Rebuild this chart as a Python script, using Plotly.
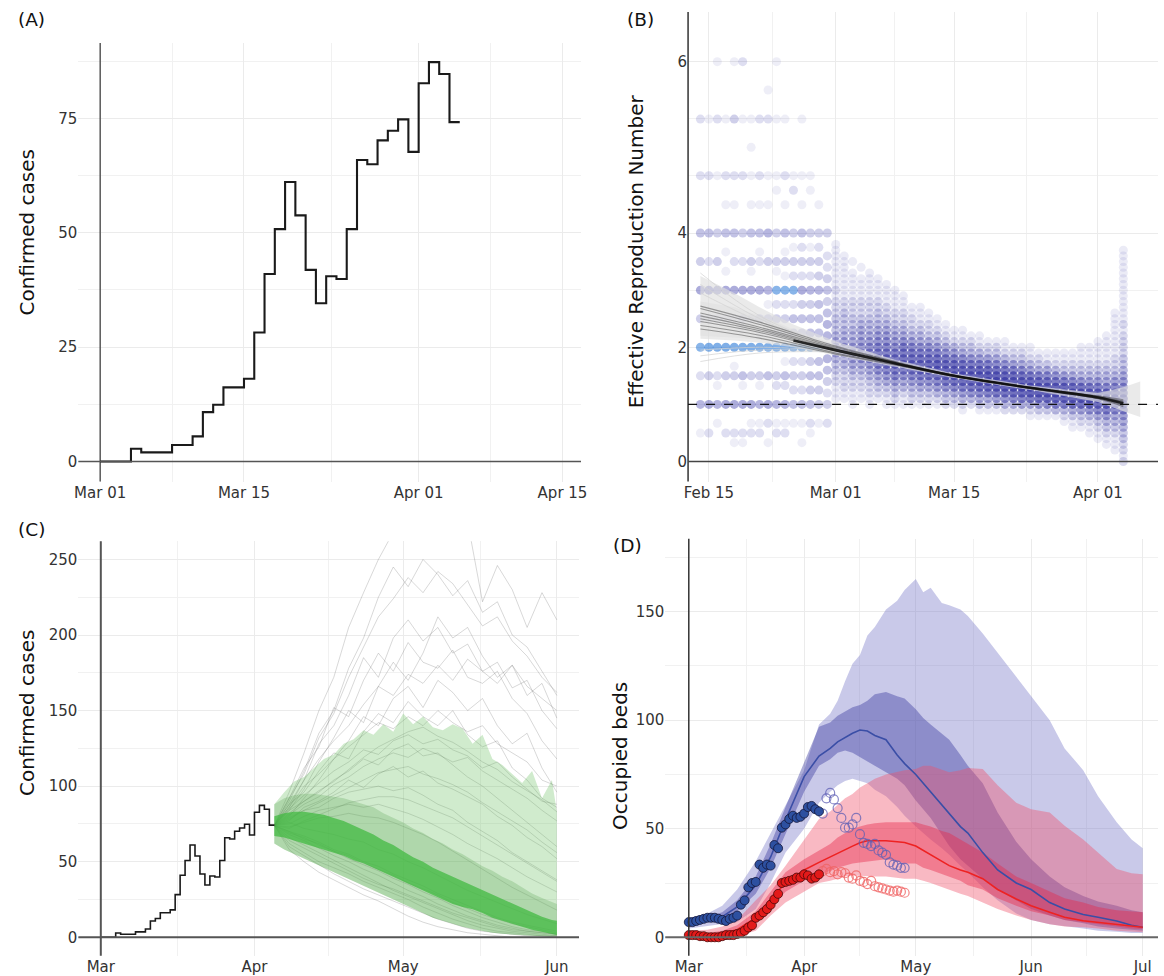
import pandas as pd
import plotly.graph_objects as go

W, H = 1164, 976
FONT = "DejaVu Sans"
GRID = "#ebebeb"
TICK = "#333333"

# ---------------- Panel A / C : observed daily confirmed cases ----------------
case_start = "2020-03-01"
cases = [0, 0, 0, 2.8, 2.0, 2.0, 2.0, 3.6, 3.6, 5.5, 10.8, 12.4, 16.2, 16.2, 18.1,
         28.2, 41.0, 50.8, 61.1, 53.8, 41.9, 34.6, 40.5, 39.9, 50.8, 65.9, 65.0,
         70.2, 72.3, 74.8, 67.7, 82.7, 87.3, 84.7, 74.2]

# ---------------- Panel B : effective reproduction number samples ----------------
# early days: discrete sample values "value:count"
rt_disc_start = "2020-02-14"
rt_disc = [
    "0.5:1 1:5 1.5:2 2:8 2.5:3 3:6 3.5:3 4:4 4.67:2 5.33:2",
    "0.5:2 1:6 1.5:3 2:9 2.5:2 3:7 3.5:2 4:4 4.67:2 5.33:1",
    "0.67:1 1:5 1.33:1 1.5:2 2:9 2.5:2 3:6 3.5:3 4:3 4.67:1 5.33:2 6:1",
    "0.5:2 1:6 1.5:3 2:9 2.5:2 3:6 3.33:1 3.67:1 4:4 4.33:1 4.67:2 5.33:1",
    "0.33:1 0.5:2 1:6 1.5:3 1.67:1 2:9 2.5:2 3:6 3.5:2 4:4 4.33:1 4.67:2 5.33:3 6:1",
    "0.33:1 0.5:2 1:6 1.33:1 1.5:4 2:9 2.33:1 2.5:3 3:6 3.5:2 4:3 4.67:2 5.33:1 6:2",
    "0.5:2 0.67:1 1:6 1.5:3 2:9 2.5:2 3:6 3.33:1 3.5:3 4:4 4.33:1 4.67:1 5:1 5.33:1",
    "0.5:2 0.67:1 1:5 1.33:1 1.5:3 2:9 2.25:1 2.5:3 3:6 3.5:2 3.67:1 4:4 4.33:1 4.67:2 5.33:2",
    "0.33:1 0.67:2 1:6 1.5:4 2:9 2.25:1 2.5:3 2.75:1 3:5 3.5:3 4:5 4.33:1 4.67:1 5.33:2 5.67:1",
    "0.5:2 0.67:1 1:5 1.33:2 1.5:3 2:9 2.25:2 2.5:3 2.75:2 3:8 3.33:1 3.5:3 4:3 4.5:1 4.67:1 5.33:1 6:1",
    "0.5:2 0.67:1 1:5 1.33:2 1.5:4 1.75:1 2:9 2.25:2 2.5:3 2.75:2 3:8 3.25:1 3.5:3 3.67:1 4:4 4.33:1 4.67:2 5.33:1",
    "0.67:1 1:4 1.25:2 1.5:3 1.75:2 2:9 2.25:3 2.5:4 2.75:2 3:8 3.25:2 3.5:3 3.75:1 4:3 4.5:2 4.67:1",
    "0.33:1 0.67:1 1:4 1.25:2 1.5:3 1.75:2 2:9 2.25:3 2.5:4 2.75:3 3:6 3.25:2 3.5:3 3.75:2 4:4 4.33:1 4.67:1 5.33:1",
    "0.5:1 0.67:2 1:4 1.25:3 1.5:4 1.75:3 2:8 2.25:4 2.5:4 2.75:3 3:5 3.25:2 3.5:3 3.75:1 4:3 4.5:1 4.67:1",
    "0.67:1 1:3 1.25:3 1.5:4 1.75:4 2:8 2.25:4 2.5:4 2.75:4 3:5 3.25:3 3.5:3 3.75:2 4:3 4.33:1",
    "0.67:2 1:3 1.2:2 1.4:3 1.6:4 1.8:5 2:6 2.2:5 2.4:5 2.6:4 2.8:3 3:4 3.2:3 3.4:2 3.6:2 4:3",
]
# later days: histogram of samples, first bin value and counts in 0.1 steps
rt_cont_start = "2020-03-01"
rt_cont_lo = [1.1, 1.1, 1.0, 1.1, 1.0, 1.1, 1.0, 1.0, 1.0, 1.0, 1.0, 1.0, 1.0, 1.0, 1.0,
              0.9, 1.0, 0.9, 0.9, 0.9, 0.9, 0.9, 0.9, 0.8, 0.8, 0.8, 0.8, 0.7, 0.6, 0.6,
              0.5, 0.4, 0.3, 0.2, 0.0]
rt_cont_counts = [
    [1, 1, 1, 2, 2, 3, 3, 4, 4, 5, 4, 4, 3, 3, 3, 2, 2, 2, 1, 2, 1, 1, 1, 1, 1, 1, 1, 1],
    [1, 1, 2, 2, 2, 3, 4, 4, 5, 5, 5, 4, 4, 3, 3, 3, 2, 2, 1, 1, 1, 1, 1, 1, 1, 1],
    [1, 1, 1, 2, 2, 3, 4, 5, 5, 6, 5, 5, 4, 4, 3, 3, 2, 2, 2, 1, 1, 1, 1, 1, 0, 1],
    [1, 1, 2, 2, 3, 4, 5, 6, 6, 6, 6, 5, 5, 4, 3, 2, 2, 2, 1, 1, 1, 1, 0, 1],
    [1, 1, 2, 2, 3, 4, 5, 6, 7, 7, 7, 6, 5, 4, 4, 3, 2, 2, 2, 1, 1, 1, 1, 1],
    [1, 2, 3, 4, 5, 7, 8, 9, 9, 8, 7, 6, 5, 4, 3, 3, 2, 2, 1, 1, 1, 1],
    [1, 1, 2, 3, 5, 6, 8, 9, 10, 9, 8, 7, 6, 5, 4, 3, 2, 2, 1, 1, 1, 1],
    [1, 2, 3, 4, 6, 8, 9, 10, 10, 9, 7, 6, 5, 4, 3, 2, 2, 1, 1, 1, 1],
    [1, 1, 2, 4, 5, 7, 9, 10, 11, 10, 9, 7, 5, 4, 3, 2, 2, 1, 1, 1],
    [1, 2, 3, 4, 6, 8, 10, 11, 11, 10, 8, 6, 4, 3, 2, 2, 1, 1],
    [1, 2, 3, 5, 7, 9, 11, 12, 11, 9, 7, 5, 4, 3, 2, 1, 1, 1],
    [1, 2, 3, 5, 7, 10, 12, 12, 11, 9, 7, 5, 3, 2, 2, 1, 1],
    [1, 2, 4, 6, 8, 11, 13, 13, 11, 9, 6, 4, 3, 2, 1, 1],
    [2, 3, 4, 7, 10, 12, 13, 12, 10, 7, 5, 3, 2, 1, 1],
    [2, 3, 5, 8, 11, 13, 13, 12, 9, 6, 4, 2, 1, 1],
    [1, 2, 4, 6, 9, 12, 14, 13, 11, 8, 5, 3, 2, 1, 1],
    [2, 4, 7, 10, 13, 14, 13, 10, 7, 4, 3, 2, 1],
    [1, 3, 5, 8, 11, 14, 15, 13, 10, 6, 4, 2, 1, 1],
    [1, 3, 5, 9, 12, 15, 15, 12, 9, 6, 3, 2, 1],
    [1, 3, 6, 10, 13, 15, 14, 11, 8, 5, 3, 2, 1],
    [2, 4, 7, 11, 14, 15, 13, 10, 7, 4, 2, 1, 1],
    [2, 4, 8, 12, 15, 15, 12, 9, 6, 3, 2, 1],
    [2, 5, 9, 13, 15, 14, 11, 8, 5, 3, 2, 1],
    [1, 2, 5, 10, 14, 15, 13, 10, 6, 4, 2, 1, 1],
    [1, 3, 6, 11, 15, 15, 12, 9, 5, 3, 2, 1],
    [1, 3, 7, 12, 15, 14, 11, 8, 5, 3, 1, 1],
    [1, 4, 8, 13, 15, 14, 10, 7, 4, 2, 1, 1],
    [1, 2, 4, 9, 13, 15, 13, 9, 6, 3, 2, 1, 1],
    [1, 1, 3, 5, 10, 14, 15, 12, 8, 5, 3, 2, 1, 1],
    [1, 2, 3, 6, 11, 14, 14, 11, 7, 4, 3, 2, 1, 1, 1],
    [1, 1, 2, 4, 7, 12, 14, 13, 10, 6, 4, 3, 2, 1, 1, 1],
    [1, 1, 2, 3, 5, 8, 12, 14, 12, 9, 6, 4, 3, 2, 1, 1, 1, 1],
    [1, 1, 2, 3, 4, 6, 9, 12, 13, 11, 8, 5, 4, 3, 2, 1, 1, 1, 1, 1],
    [1, 1, 1, 2, 3, 4, 5, 8, 10, 11, 10, 8, 6, 4, 3, 2, 2, 1, 1, 1, 1, 1, 1, 1, 1],
    [2, 1, 2, 2, 3, 3, 4, 5, 6, 8, 9, 9, 8, 7, 6, 5, 4, 3, 3, 2, 2, 2, 2, 1, 2, 1,
     1, 1, 1, 1, 1, 1, 1, 1, 1, 1, 1, 1],
]
# smoothed trends of the samples
trend_dates = ["2020-02-14", "2020-02-21", "2020-03-01", "2020-03-08",
               "2020-03-15", "2020-03-24", "2020-04-01", "2020-04-04"]
trend_dark = [
    [2.68, 2.40, 2.00, 1.74, 1.51, 1.29, 1.12, 1.02],
    [2.60, 2.35, 1.98, 1.73, 1.50, 1.30, 1.14, 1.06],
    [2.45, 2.26, 1.93, 1.71, 1.50, 1.29, 1.12, 1.00],
    [2.38, 2.21, 1.90, 1.70, 1.49, 1.28, 1.11, 0.98],
    [2.55, 2.32, 1.96, 1.72, 1.51, 1.30, 1.15, 1.08],
    [2.50, 2.29, 1.94, 1.71, 1.50, 1.28, 1.10, 0.96],
    [2.72, 2.44, 2.02, 1.75, 1.51, 1.29, 1.13, 1.03],
    [2.32, 2.16, 1.88, 1.69, 1.49, 1.29, 1.13, 1.05],
]
center_dates = ["2020-02-25", "2020-03-01", "2020-03-08", "2020-03-15",
                "2020-03-24", "2020-04-01", "2020-04-04"]
trend_center = [2.12, 1.95, 1.72, 1.50, 1.29, 1.12, 1.02]
fan_dates = ["2020-02-14", "2020-02-21", "2020-03-01"]
fan_lines = [[3.30, 2.55, 1.98], [3.10, 2.50, 1.97], [1.75, 1.90, 1.92],
             [1.85, 1.95, 1.93], [2.95, 2.45, 1.96], [1.95, 2.00, 1.94]]
ribbon_dates = ["2020-02-14", "2020-02-18", "2020-02-21", "2020-02-25", "2020-03-01",
                "2020-03-08", "2020-03-15", "2020-03-24", "2020-04-01", "2020-04-04",
                "2020-04-06"]
ribbon_hi = [3.25, 2.95, 2.70, 2.40, 2.10, 1.78, 1.54, 1.33, 1.20, 1.30, 1.40]
ribbon_lo = [2.15, 2.12, 2.08, 2.00, 1.86, 1.66, 1.46, 1.25, 1.04, 0.88, 0.78]
ribbon2_dates = ["2020-02-14", "2020-02-18", "2020-02-22", "2020-02-26", "2020-03-01"]
ribbon2_hi = [2.80, 2.70, 2.50, 2.25, 2.05]
ribbon2_lo = [2.20, 2.17, 2.12, 2.03, 1.92]

# ---------------- Panel C : projected cases ----------------
traj_start = "2020-04-05"
traj_step = 3
traj = [
    [74, 96, 122, 150, 172, 205, 228, 250, 268, 285, 300, 305, 290, 275, 222, 246, 230, 205, 228, 210],
    [74, 90, 110, 135, 150, 178, 198, 225, 245, 232, 250, 240, 226, 236, 215, 222, 200, 192, 176, 160],
    [74, 86, 104, 128, 140, 160, 185, 172, 198, 210, 196, 205, 188, 194, 176, 182, 165, 170, 150, 138],
    [74, 92, 112, 126, 152, 146, 170, 188, 176, 195, 182, 178, 190, 172, 168, 176, 158, 148, 130, 118],
    [74, 84, 98, 116, 132, 150, 142, 166, 182, 170, 188, 212, 198, 205, 186, 172, 180, 160, 168, 145],
    [74, 80, 92, 104, 118, 130, 146, 140, 158, 166, 152, 170, 162, 150, 158, 140, 128, 135, 112, 96],
    [74, 88, 96, 110, 122, 118, 136, 148, 142, 156, 146, 140, 150, 134, 126, 130, 112, 104, 92, 86],
    [74, 82, 90, 96, 104, 110, 118, 114, 124, 128, 120, 122, 114, 106, 100, 92, 84, 76, 68, 60],
    [74, 78, 84, 86, 92, 96, 98, 100, 97, 99, 94, 88, 84, 76, 70, 64, 56, 50, 44, 38],
    [74, 73, 76, 79, 80, 82, 80, 79, 76, 72, 68, 63, 57, 51, 45, 39, 33, 28, 23, 18],
    [74, 76, 72, 70, 68, 65, 63, 58, 55, 50, 46, 41, 36, 31, 27, 23, 19, 15, 12, 9],
    [74, 70, 67, 63, 58, 55, 50, 47, 42, 38, 34, 29, 25, 21, 17, 13, 10, 8, 6, 4],
    [74, 66, 61, 56, 51, 46, 41, 36, 31, 27, 23, 19, 15, 11, 8, 6, 4, 3, 2, 1],
    [74, 58, 50, 43, 38, 33, 28, 24, 19, 14, 10, 7, 5, 3, 2, 1, 0, 0, 0, 0],
    [74, 68, 64, 59, 54, 50, 45, 41, 36, 31, 27, 22, 18, 14, 11, 8, 6, 4, 3, 2],
    [74, 79, 84, 89, 94, 99, 104, 109, 111, 113, 108, 105, 101, 96, 89, 83, 77, 71, 63, 56],
    [74, 84, 90, 97, 103, 111, 119, 126, 131, 136, 139, 133, 129, 123, 116, 111, 103, 97, 91, 83],
    [74, 72, 77, 81, 85, 89, 91, 93, 93, 91, 87, 83, 79, 73, 67, 61, 55, 49, 43, 37],
    [74, 92, 108, 132, 148, 172, 192, 212, 224, 238, 228, 242, 234, 220, 206, 212, 196, 186, 172, 162],
    [74, 88, 104, 118, 130, 140, 154, 166, 160, 174, 168, 180, 170, 184, 176, 168, 180, 166, 158, 150],
    [74, 62, 56, 50, 46, 42, 37, 33, 29, 25, 20, 16, 12, 9, 6, 4, 3, 2, 1, 1],
    [74, 70, 65, 62, 57, 54, 49, 45, 41, 36, 32, 28, 23, 19, 15, 12, 9, 7, 5, 3],
    [74, 81, 88, 93, 101, 106, 113, 118, 122, 119, 125, 121, 116, 119, 110, 104, 98, 92, 84, 77],
    [74, 77, 86, 90, 96, 104, 99, 108, 113, 106, 110, 102, 98, 93, 88, 80, 74, 66, 60, 52],
    [74, 85, 94, 102, 110, 116, 124, 121, 130, 134, 128, 131, 124, 120, 112, 116, 106, 98, 90, 88],
    [74, 75, 80, 84, 86, 88, 86, 88, 85, 82, 78, 73, 68, 62, 57, 52, 46, 40, 35, 30],
    [74, 64, 59, 54, 49, 44, 39, 35, 32, 28, 24, 20, 16, 13, 10, 7, 5, 4, 3, 2],
    [74, 60, 54, 48, 42, 37, 32, 28, 24, 20, 16, 12, 9, 6, 4, 3, 2, 1, 1, 0],
    [74, 69, 66, 61, 57, 52, 48, 44, 39, 35, 30, 26, 21, 17, 13, 10, 7, 5, 4, 2],
    [74, 86, 100, 108, 118, 126, 134, 142, 138, 146, 140, 150, 142, 136, 140, 128, 122, 116, 104, 100],
]
c_band_days = [0, 2, 4, 6, 8, 10, 12, 14, 16, 18, 20, 22, 24, 26, 28, 30, 32, 34, 36,
               38, 40, 42, 44, 46, 48, 50, 52, 54, 56, 57]
c_outer_hi = [88, 96, 103, 106, 112, 118, 121, 128, 131, 137, 134, 141, 136, 148, 141,
              146, 139, 137, 141, 138, 128, 134, 118, 114, 108, 102, 110, 92, 104, 83]
c_mid_hi = [88, 92, 94, 95, 95, 94, 93, 92, 90, 88, 86, 82, 79, 76, 72, 69, 65, 62, 58,
            55, 51, 47, 44, 40, 37, 33, 29, 26, 23, 22]
c_mid_lo = [62, 58, 55, 52, 49, 46, 43, 40, 37, 34, 31, 28, 25, 22, 19, 16, 13, 11, 9,
            7, 5.5, 4, 3, 2.3, 1.8, 1.3, 1, 0.7, 0.5, 0.5]
c_inner_hi = [80, 82, 83, 83, 82, 81, 79, 77, 74, 71, 68, 64, 61, 57, 53, 50, 46, 43, 40,
              37, 34, 31, 28, 25, 22, 19, 16, 13.5, 11.5, 11]
c_inner_lo = [67, 66, 64, 62, 60, 58, 56, 54, 51, 49, 46, 43, 40, 37, 34, 31, 28, 25, 22,
              20, 18.5, 16, 13, 11, 9, 7, 5, 3.5, 2.2, 1.5]

# ---------------- Panel D : occupied beds ----------------
d_start = "2020-03-01"
d_days = [0, 5, 9, 13, 18, 22, 26, 31, 35, 38, 40, 42, 44, 46, 48, 50, 53, 56, 58, 61,
          63, 65, 68, 70, 73, 75, 79, 83, 88, 92, 97, 101, 106, 110, 115, 119, 122]
blue_out_hi = [9, 11, 14.5, 22, 35, 48, 61, 77, 98, 103, 109, 118, 126, 130, 139, 143,
               151, 155, 160, 165, 159, 161, 154, 153, 151, 148, 140, 131, 120, 111, 100,
               87, 77, 65, 53, 45, 41]
blue_out_lo = [4, 5, 6, 7, 13, 25, 39, 50, 62, 67, 70, 72, 73, 72, 71, 68, 65, 60, 56,
               51, 48, 45, 41, 38, 33, 30, 23, 17, 11, 8, 6, 5, 4, 3, 2.5, 2, 2]
blue_in_hi = [8.5, 9.5, 11.5, 17, 28, 43, 60, 81, 97, 99, 102, 104, 106, 107, 109, 112,
              113, 111, 110, 105, 101, 98, 94, 91, 84, 79, 71, 57.5, 44, 36, 28, 23, 19,
              16.5, 14.5, 12.5, 11.5]
blue_in_lo = [6, 7, 8, 12, 20, 32, 48, 67, 79, 82, 85, 86, 85, 83, 81, 79, 76, 73, 70,
              63, 59, 55, 47, 42, 36, 33, 27, 22, 17, 13, 10, 8, 6.5, 5, 4, 3.5, 3]
blue_med = [7, 8, 9.5, 14, 24, 37, 54, 74, 83.5, 87, 90, 92, 94, 95.5, 95, 93, 91, 84,
            80, 75, 71, 67, 61, 57.5, 51, 48, 39, 31, 25, 22, 16, 13, 10.5, 9.2, 7.5,
            5.5, 4.6]
red_out_hi = [3, 3.5, 5, 8, 17, 24, 33, 45, 54.5, 58, 61, 64, 66, 69, 71, 73, 75, 76,
              77, 77.5, 79, 79, 77, 76, 77, 78, 77.5, 70, 62, 59, 57.5, 51.4, 45, 39,
              31.4, 29.5, 29]
red_out_lo = [0, 0, 0.3, 0.5, 3, 10, 16, 21, 25, 26, 27, 28, 28.3, 28.3, 28.3, 28, 28,
              27.5, 27, 27, 26, 25, 23, 22, 20, 19, 16, 13, 10, 8, 6, 5, 4.6, 4, 3, 2.5,
              2.3]
red_in_hi = [2, 2, 3, 5.5, 12, 21, 30, 36, 40, 43, 46, 48, 50, 51, 52, 52.5, 53, 53,
             53, 53, 52, 51, 49, 48, 45, 43, 39, 34, 28, 25, 21, 18, 16, 14, 12.5, 12,
             11.5]
red_in_lo = [0.5, 0.5, 1, 2, 6, 14, 21, 26, 29, 30.5, 32, 33, 34, 34.5, 35, 35.5, 36,
             35, 34, 34, 32, 31, 29, 28, 26, 24, 22, 18, 14.5, 12, 10, 8, 7, 6, 5, 4,
             3.8]
red_med = [1, 1, 2, 3.5, 9, 17.6, 25, 31, 34.5, 37, 39, 40.5, 42, 43.5, 44.5, 44.5,
           44.5, 44, 43.7, 42, 40, 38, 35, 33, 31, 30, 27, 22, 17.6, 14.5, 11.5, 9.2,
           7.6, 6.8, 6, 5, 4.6]
obs_blue = [7, 7, 7.5, 8, 8.5, 9, 9, 9, 8.5, 8, 7.5, 8.5, 9, 10, 15, 17, 23, 25, 25.5,
            33.5, 32, 33.5, 33, 42.5, 41, 50.5, 52, 54.5, 56, 55, 55.5, 57, 60, 60.5, 59, 58]
obs_red = [1, 1, 1, 0.5, 0.5, 0, 0, 0, 0, 0.5, 1, 1, 1, 1.5, 2, 3, 4.5, 5.5, 9, 10, 11.5,
           13, 15, 17.5, 20, 25, 25.5, 26, 26.5, 27.5, 27.5, 29, 28.5, 27, 27.5, 29]
later_start = "2020-04-06"
later_blue = [57, 64, 66.5, 63.5, 59.5, 55, 50.5, 50.5, 52, 55, 47.5, 43.5, 43, 42, 43,
              40, 39, 38, 34.5, 33.5, 33, 32, 32]
later_red = [30.5, 31.5, 30, 30.5, 29, 30, 29.5, 27.5, 27, 28.5, 26, 25.5, 24.5, 26,
             23.5, 23, 22.5, 22, 21.5, 21, 21.5, 21, 20.5]


# ---------------- helpers ----------------
def dom_x(a, b):
    return [a / W, b / W]


def dom_y(top, bottom):
    return [1 - bottom / H, 1 - top / H]


def days_from(start, offsets):
    s = pd.Timestamp(start)
    return [s + pd.Timedelta(days=float(o)) for o in offsets]


def rt_y(r):
    # the R axis is stretched above 4 (0,2,4 evenly spaced; 4->6 spans 3 grid steps)
    return r if r <= 4 else 4 + 1.5 * (r - 4)


def band(xs, hi, lo, color, xa, ya):
    return go.Scatter(x=list(xs) + list(xs)[::-1], y=list(hi) + list(lo)[::-1],
                      fill="toself", fillcolor=color, mode="lines",
                      line=dict(width=0), xaxis=xa, yaxis=ya, hoverinfo="skip")


fig = go.Figure()

# ---------------- Panel A ----------------
step_x = days_from(case_start, range(len(cases) + 1))
step_y = cases + [cases[-1]]
fig.add_trace(go.Scatter(x=step_x, y=step_y, mode="lines",
                         line=dict(color="#1a1a1a", width=2.1, shape="hv"),
                         xaxis="x", yaxis="y", hoverinfo="skip"))

# ---------------- Panel B ----------------
A_DISC = 0.095
A_CONT = 0.10
bx, by, bop, bcol = [], [], [], []
d0 = pd.Timestamp(rt_disc_start)
for i, s in enumerate(rt_disc):
    day = d0 + pd.Timedelta(days=i)
    for tok in s.split():
        v, n = tok.split(":")
        v, n = float(v), int(n)
        bx.append(day)
        by.append(rt_y(v))
        bop.append(1 - (1 - A_DISC) ** n)
        bcol.append("rgb(40,120,215)" if n >= 8 else "rgb(70,70,175)")
c0 = pd.Timestamp(rt_cont_start)
for i, (lo, cnts) in enumerate(zip(rt_cont_lo, rt_cont_counts)):
    day = c0 + pd.Timedelta(days=i)
    for k, n in enumerate(cnts):
        if n == 0:
            continue
        v = round(lo + 0.1 * k, 2)
        bx.append(day)
        by.append(rt_y(v))
        bop.append(1 - (1 - A_CONT) ** n)
        bcol.append("rgb(58,58,165)")
fig.add_trace(go.Scatter(x=bx, y=by, mode="markers",
                         marker=dict(size=9, color=bcol, opacity=bop, line=dict(width=0)),
                         xaxis="x2", yaxis="y2", hoverinfo="skip"))
fig.add_trace(band(pd.to_datetime(ribbon_dates), [rt_y(v) for v in ribbon_hi],
                   [rt_y(v) for v in ribbon_lo], "rgba(222,222,222,0.65)", "x2", "y2"))
fig.add_trace(band(pd.to_datetime(ribbon2_dates), ribbon2_hi, ribbon2_lo,
                   "rgba(222,222,222,0.55)", "x2", "y2"))
for fl in fan_lines:
    fig.add_trace(go.Scatter(x=pd.to_datetime(fan_dates), y=fl, mode="lines",
                             line=dict(color="rgba(210,210,210,0.9)", width=0.8, shape="spline"),
                             xaxis="x2", yaxis="y2", hoverinfo="skip"))
for tl in trend_dark:
    fig.add_trace(go.Scatter(x=pd.to_datetime(trend_dates), y=tl, mode="lines",
                             line=dict(color="rgba(50,50,50,0.45)", width=1.1, shape="spline"),
                             xaxis="x2", yaxis="y2", hoverinfo="skip"))
fig.add_trace(go.Scatter(x=pd.to_datetime(center_dates), y=trend_center, mode="lines",
                         line=dict(color="rgba(10,10,10,0.8)", width=2.6, shape="spline"),
                         xaxis="x2", yaxis="y2", hoverinfo="skip"))

# ---------------- Panel C ----------------
traj_x = days_from(traj_start, [traj_step * k for k in range(len(traj[0]))])
for t in traj:
    fig.add_trace(go.Scatter(x=traj_x, y=t, mode="lines",
                             line=dict(color="rgba(90,90,90,0.24)", width=1),
                             xaxis="x3", yaxis="y3", hoverinfo="skip"))
c_x = days_from(traj_start, c_band_days)
fig.add_trace(band(c_x, c_outer_hi, c_mid_lo, "rgba(100,190,90,0.30)", "x3", "y3"))
fig.add_trace(band(c_x, c_mid_hi, c_mid_lo, "rgba(80,160,75,0.26)", "x3", "y3"))
fig.add_trace(band(c_x, c_inner_hi, c_inner_lo, "rgba(65,185,65,0.75)", "x3", "y3"))
fig.add_trace(go.Scatter(x=step_x, y=step_y, mode="lines",
                         line=dict(color="#1a1a1a", width=1.6, shape="hv"),
                         xaxis="x3", yaxis="y3", hoverinfo="skip"))

# ---------------- Panel D ----------------
d_x = days_from(d_start, d_days)
fig.add_trace(band(d_x, blue_out_hi, blue_out_lo, "rgba(120,120,200,0.40)", "x4", "y4"))
fig.add_trace(band(d_x, blue_in_hi, blue_in_lo, "rgba(60,60,160,0.42)", "x4", "y4"))
fig.add_trace(band(d_x, red_out_hi, red_out_lo, "rgba(240,80,105,0.40)", "x4", "y4"))
fig.add_trace(band(d_x, red_in_hi, red_in_lo, "rgba(230,40,75,0.42)", "x4", "y4"))
fig.add_trace(go.Scatter(x=d_x, y=blue_med, mode="lines",
                         line=dict(color="#3a4ea6", width=1.6),
                         xaxis="x4", yaxis="y4", hoverinfo="skip"))
fig.add_trace(go.Scatter(x=d_x, y=red_med, mode="lines",
                         line=dict(color="#ee2222", width=1.6),
                         xaxis="x4", yaxis="y4", hoverinfo="skip"))
later_x = days_from(later_start, range(len(later_blue)))
fig.add_trace(go.Scatter(x=later_x, y=later_blue, mode="markers",
                         marker=dict(symbol="circle-open", size=9, color="rgba(95,95,180,0.75)",
                                     line=dict(width=1.2)),
                         xaxis="x4", yaxis="y4", hoverinfo="skip"))
fig.add_trace(go.Scatter(x=later_x, y=later_red, mode="markers",
                         marker=dict(symbol="circle-open", size=9, color="rgba(240,100,100,0.8)",
                                     line=dict(width=1.2)),
                         xaxis="x4", yaxis="y4", hoverinfo="skip"))
obs_x = days_from(d_start, range(len(obs_blue)))
fig.add_trace(go.Scatter(x=obs_x, y=obs_blue, mode="markers",
                         marker=dict(size=9, color="#2d50a0", line=dict(color="#14163a", width=0.8)),
                         xaxis="x4", yaxis="y4", hoverinfo="skip"))
fig.add_trace(go.Scatter(x=obs_x, y=obs_red, mode="markers",
                         marker=dict(size=9, color="#e31a1a", line=dict(color="#4a0808", width=0.8)),
                         xaxis="x4", yaxis="y4", hoverinfo="skip"))


# ---------------- axes ----------------
def ax(**kw):
    base = dict(showgrid=True, gridcolor=GRID, gridwidth=1.1, zeroline=False, showline=False,
                ticks="", tickfont=dict(family=FONT, size=15, color=TICK), fixedrange=True)
    base.update(kw)
    return base


def minor(vals):
    return dict(tickmode="array", tickvals=vals, showgrid=True, gridcolor="#f1f1f1",
                gridwidth=0.9, ticks="")


layout = dict(
    width=W, height=H, margin=dict(l=0, r=0, t=0, b=0),
    paper_bgcolor="white", plot_bgcolor="white", showlegend=False,
    font=dict(family=FONT, color=TICK),
    xaxis=ax(domain=dom_x(75, 582), anchor="y", type="date",
             range=["2020-02-27 21:07", "2020-04-16 19:12"], tickmode="array",
             tickvals=["2020-03-01", "2020-03-15", "2020-04-01", "2020-04-15"],
             ticktext=["Mar 01", "Mar 15", "Apr 01", "Apr 15"],
             minor=minor(["2020-03-08", "2020-03-23 12:00", "2020-04-08"])),
    yaxis=ax(domain=dom_y(43, 482), anchor="x", range=[-4.37, 91.5], tickmode="array",
             tickvals=[0, 25, 50, 75], minor=minor([12.5, 37.5, 62.5, 87.5])),
    xaxis2=ax(domain=dom_x(690, 1164), anchor="y2", type="date",
              range=["2020-02-12 13:00", "2020-04-08 02:24"], tickmode="array",
              tickvals=["2020-02-15", "2020-03-01", "2020-03-15", "2020-04-01"],
              ticktext=["Feb 15", "Mar 01", "Mar 15", "Apr 01"],
              minor=minor(["2020-02-22 12:00", "2020-03-08", "2020-03-23 12:00"])),
    yaxis2=ax(domain=dom_y(12, 482), anchor="x2", range=[-0.35, 7.87], tickmode="array",
              tickvals=[0, 2, 4, rt_y(6)], ticktext=["0", "2", "4", "6"],
              minor=minor([1, 3, 5, 6])),
    xaxis3=ax(domain=dom_x(75, 580), anchor="y3", type="date",
              range=["2020-02-25 11:17", "2020-06-05 11:17"], tickmode="array",
              tickvals=["2020-03-01", "2020-04-01", "2020-05-01", "2020-06-01"],
              ticktext=["Mar", "Apr", "May", "Jun"],
              minor=minor(["2020-03-16 12:00", "2020-04-16", "2020-05-16 12:00"])),
    yaxis3=ax(domain=dom_y(541.7, 956.7), anchor="x3", range=[-12.2, 262.1], tickmode="array",
              tickvals=[0, 50, 100, 150, 200, 250],
              minor=minor([25, 75, 125, 175, 225])),
    xaxis4=ax(domain=dom_x(667, 1164), anchor="y4", type="date",
              range=["2020-02-23 16:19", "2020-07-05 02:24"], tickmode="array",
              tickvals=["2020-03-01", "2020-04-01", "2020-05-01", "2020-06-01", "2020-07-01"],
              ticktext=["Mar", "Apr", "May", "Jun", "Jul"],
              minor=minor(["2020-03-16 12:00", "2020-04-16", "2020-05-16 12:00", "2020-06-16"])),
    yaxis4=ax(domain=dom_y(539.3, 956.7), anchor="x4", range=[-8.5, 183.6], tickmode="array",
              tickvals=[0, 50, 100, 150], minor=minor([25, 75, 125, 175])),
)
fig.update_layout(**layout)

shapes = []


def vline(xa, ya, xval, color, width):
    shapes.append(dict(type="line", xref=xa, x0=xval, x1=xval, yref=ya + " domain", y0=0, y1=1,
                       line=dict(color=color, width=width)))


def hline(xa, ya, yval, color, width, dash="solid"):
    shapes.append(dict(type="line", xref=xa + " domain", x0=0, x1=1, yref=ya, y0=yval, y1=yval,
                       line=dict(color=color, width=width, dash=dash)))


vline("x", "y", "2020-03-01", "#222222", 1.1)
hline("x", "y", 0, "#555555", 1.6)
shapes.append(dict(type="line", xref="x2 domain", x0=0, x1=0, yref="y2 domain", y0=0, y1=1,
                   line=dict(color="#333333", width=1.5)))
hline("x2", "y2", 0, "#444444", 1.6)
hline("x2", "y2", 1, "#111111", 1.1, dash="dash")
vline("x3", "y3", "2020-03-01", "#555555", 2)
hline("x3", "y3", 0, "#555555", 2)
vline("x4", "y4", "2020-03-01", "#333333", 1.5)
hline("x4", "y4", 0, "#666666", 2)
fig.update_layout(shapes=shapes)

ann = []
for txt, x, y in [("(A)", 12, 20), ("(B)", 626, 20), ("(C)", 12, 530), ("(D)", 612, 546)]:
    ann.append(dict(text=txt, x=x / W, y=1 - y / H, xref="paper", yref="paper",
                    xanchor="left", yanchor="middle", showarrow=False,
                    font=dict(family=FONT, size=18.5, color="#111111")))
for txt, x, y in [("Confirmed cases", 23, 232), ("Effective Reproduction Number", 637, 252),
                  ("Confirmed cases", 23, 713), ("Occupied beds", 622, 757)]:
    ann.append(dict(text=txt, x=x / W, y=1 - y / H, xref="paper", yref="paper",
                    xanchor="center", yanchor="middle", textangle=-90, showarrow=False,
                    font=dict(family=FONT, size=20, color="#111111")))
fig.update_layout(annotations=ann)

fig.write_html("out.html", config=dict(displayModeBar=False),
               post_script="document.body.style.margin='0';document.body.style.overflow='hidden';")
